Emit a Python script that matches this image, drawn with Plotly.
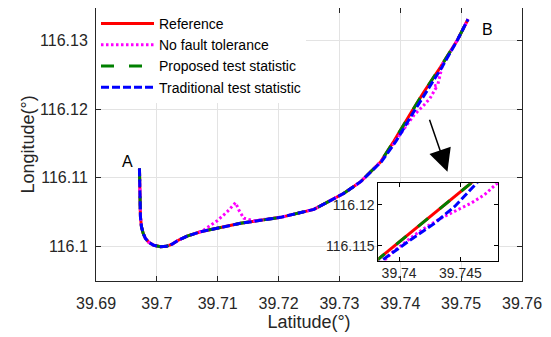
import plotly.graph_objects as go

# ---------------- data ----------------
ref_lat = [39.69714, 39.69725, 39.69730, 39.69747, 39.69775, 39.69812, 39.69867, 39.69949,
           39.70059, 39.70158, 39.70252, 39.70360, 39.70498, 39.70717, 39.71046, 39.71375,
           39.72033, 39.72581, 39.73074, 39.73349, 39.73678, 39.73896, 39.74171, 39.74390,
           39.74664, 39.74939, 39.75113]
ref_lon = [116.11135, 116.10672, 116.10428, 116.10282, 116.10185, 116.10112, 116.10054, 116.10010,
           116.09990, 116.09996, 116.10029, 116.10088, 116.10146, 116.10209, 116.10273, 116.10332,
           116.10419, 116.10536, 116.10770, 116.10940, 116.11232, 116.11534, 116.11939, 116.12255,
           116.12620, 116.13010, 116.13313]

nft_lat = [39.69714, 39.69725, 39.69730, 39.69747, 39.69775, 39.69812, 39.69867, 39.69949,
           39.70059, 39.70158, 39.70252, 39.70360, 39.70498, 39.70717, 39.70771, 39.70992,
           39.71156, 39.71293, 39.71347, 39.71429, 39.71594, 39.72033, 39.72581, 39.73074,
           39.73349, 39.73678, 39.73952, 39.74061, 39.74225, 39.74390, 39.74488, 39.74582,
           39.74549, 39.74615, 39.74697, 39.74939, 39.75113]
nft_lon = [116.11135, 116.10672, 116.10428, 116.10282, 116.10185, 116.10112, 116.10054, 116.10010,
           116.09990, 116.09996, 116.10029, 116.10088, 116.10146, 116.10209, 116.10234, 116.10370,
           116.10501, 116.10633, 116.10526, 116.10405, 116.10370, 116.10419, 116.10536, 116.10770,
           116.10940, 116.11232, 116.11574, 116.11695, 116.11914, 116.12060, 116.12158, 116.12304,
           116.12338, 116.12353, 116.12660, 116.13010, 116.13313]

prop_lat = ref_lat
prop_lon = ref_lon

trad_lat = [39.69714, 39.69725, 39.69730, 39.69747, 39.69775, 39.69812, 39.69867, 39.69949,
            39.70059, 39.70158, 39.70252, 39.70360, 39.70498, 39.70717, 39.71046, 39.71375,
            39.72033, 39.72581, 39.73074, 39.73349, 39.73689, 39.73932, 39.74206, 39.74431,
            39.74689, 39.74939, 39.75113]
trad_lon = ref_lon

# zoomed-in detail shown in the inset
in_ref_lat = [39.73800, 39.73829, 39.74590, 39.74620]
in_ref_lon = [116.11303, 116.11338, 116.12265, 116.12302]
in_nft_lat = [39.73820, 39.73884, 39.73951, 39.74128, 39.74250, 39.74345, 39.74480, 39.74590,
              39.74698, 39.74779, 39.74861]
in_nft_lon = [116.11250, 116.11329, 116.11430, 116.11634, 116.11756, 116.11838, 116.11939, 116.12021,
              116.12122, 116.12232, 116.12341]
in_prop_lat = in_ref_lat
in_prop_lon = in_ref_lon
in_trad_lat = [39.73800, 39.73857, 39.74073, 39.74291, 39.74454, 39.74630, 39.74660]
in_trad_lon = [116.11250, 116.11321, 116.11552, 116.11777, 116.11979, 116.12265, 116.12305]

x_ticks = [39.69, 39.70, 39.71, 39.72, 39.73, 39.74, 39.75, 39.76]
x_tick_text = ["39.69", "39.7", "39.71", "39.72", "39.73", "39.74", "39.75", "39.76"]
y_ticks = [116.10, 116.11, 116.12, 116.13]
y_tick_text = ["116.1", "116.11", "116.12", "116.13"]
in_x_ticks = [39.740, 39.745]
in_x_tick_text = ["39.74", "39.745"]
in_y_ticks = [116.115, 116.120]
in_y_tick_text = ["116.115", "116.12"]

names = ["Reference", "No fault tolerance", "Proposed test statistic", "Traditional test statistic"]
colors = ["#ff0000", "#ff00ff", "#008000", "#0000ff"]
dashes = ["solid", "2.5px,2.5px", "13px,15px", "8px,3px"]

FONT = "Liberation Sans, Arial, sans-serif"
TXT = "#262626"

fig = go.Figure()
main = [(ref_lat, ref_lon), (nft_lat, nft_lon), (prop_lat, prop_lon), (trad_lat, trad_lon)]
inset = [(in_ref_lat, in_ref_lon), (in_nft_lat, in_nft_lon), (in_prop_lat, in_prop_lon),
         (in_trad_lat, in_trad_lon)]
for (la, lo), n, c, d in zip(main, names, colors, dashes):
    fig.add_trace(go.Scatter(x=la, y=lo, mode="lines", name=n,
                             line=dict(color=c, width=3, dash=d), xaxis="x", yaxis="y"))
for (la, lo), n, c, d in zip(inset, names, colors, dashes):
    fig.add_trace(go.Scatter(x=la, y=lo, mode="lines", name=n, showlegend=False,
                             line=dict(color=c, width=3, dash=d), xaxis="x2", yaxis="y2"))

axis_common = dict(showline=True, linecolor=TXT, linewidth=1, mirror="ticks", ticks="inside",
                   ticklen=5, tickcolor=TXT, tickfont=dict(family=FONT, size=16, color=TXT),
                   zeroline=False)
fig.update_layout(
    width=543, height=329,
    margin=dict(l=88, r=29, t=0, b=56),
    paper_bgcolor="white", plot_bgcolor="white",
    showlegend=True,
    legend=dict(x=0, y=1, xanchor="left", yanchor="top", bgcolor="white",
                borderwidth=0, font=dict(family=FONT, size=14, color="black"),
                itemwidth=53, tracegroupgap=0),
    xaxis=dict(domain=[0, 1], range=[39.69, 39.76], tickvals=x_ticks, ticktext=x_tick_text,
               showgrid=True, gridcolor="#e3e3e3", gridwidth=1, ticklabelstandoff=8,
               title=dict(text="Latitude(°)", font=dict(family=FONT, size=18, color=TXT), standoff=0),
               **axis_common),
    yaxis=dict(domain=[0, 1], range=[116.09489, 116.13478], tickvals=y_ticks, ticktext=y_tick_text,
               showgrid=True, gridcolor="#e3e3e3", gridwidth=1, ticklabelstandoff=4,
               title=dict(text="Longitude(°)", font=dict(family=FONT, size=18, color=TXT), standoff=0),
               **axis_common),
    xaxis2=dict(domain=[0.6627, 0.9444], anchor="y2", range=[39.7383, 39.7481],
                tickvals=in_x_ticks, ticktext=in_x_tick_text, showgrid=False,
                showline=True, linecolor="black", linewidth=1, mirror="ticks", ticks="inside",
                ticklen=4, tickcolor="black", tickfont=dict(family=FONT, size=14, color=TXT),
                zeroline=False),
    yaxis2=dict(domain=[0.07436, 0.3579], anchor="x2", range=[116.1132, 116.1226],
                tickvals=in_y_ticks, ticktext=in_y_tick_text, showgrid=False,
                showline=True, linecolor="black", linewidth=1, mirror="ticks", ticks="inside",
                ticklen=4, tickcolor="black", tickfont=dict(family=FONT, size=14, color=TXT),
                zeroline=False),
)

# white background of the inset, covering the main grid
fig.add_shape(type="rect", xref="x2", yref="y2", x0=39.7383, x1=39.7481, y0=116.1132, y1=116.1226,
              fillcolor="white", line=dict(width=0), layer="below")

fig.add_annotation(x=39.69512, y=116.11232, xref="x", yref="y", text="A", showarrow=False,
                   font=dict(family=FONT, size=16, color="black"))
fig.add_annotation(x=39.75433, y=116.13167, xref="x", yref="y", text="B", showarrow=False,
                   font=dict(family=FONT, size=16, color="black"))
fig.add_annotation(x=39.74775, y=116.11086, xref="x", yref="y", ax=39.74472, ay=116.11866,
                   axref="x", ayref="y", text="", showarrow=True, arrowhead=2, arrowsize=3,
                   arrowwidth=1.5, arrowcolor="black", standoff=0)

fig.write_html("out.html")
